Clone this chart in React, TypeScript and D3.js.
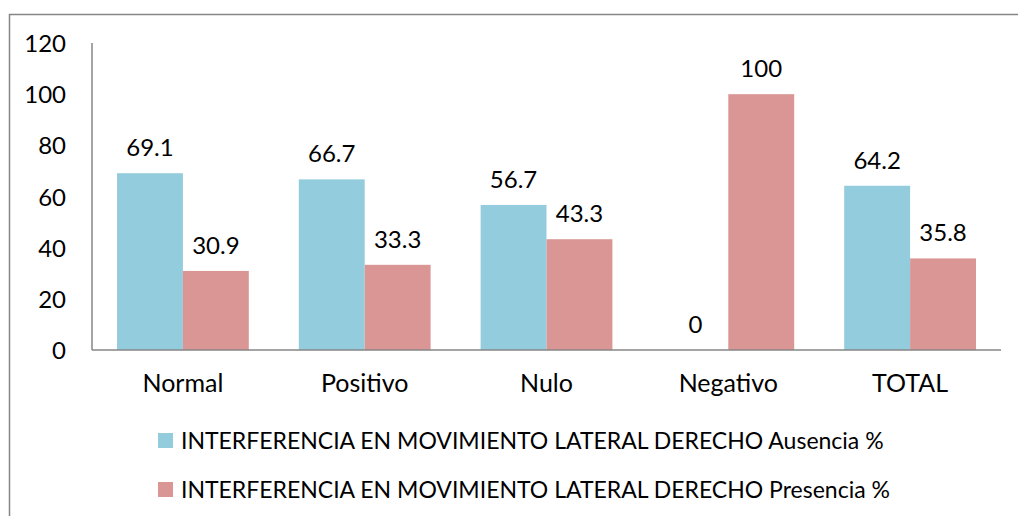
import React from "react";
import * as d3 from "d3";

const categories = ["Normal", "Positivo", "Nulo", "Negativo", "TOTAL"];
const ausencia = [69.1, 66.7, 56.7, 0, 64.2];
const presencia = [30.9, 33.3, 43.3, 100, 35.8];
const seriesNames = [
  "INTERFERENCIA EN MOVIMIENTO LATERAL DERECHO Ausencia %",
  "INTERFERENCIA EN MOVIMIENTO LATERAL DERECHO Presencia %",
];
const yTicks = [0, 20, 40, 60, 80, 100, 120];
const colors = ["#93CDDD", "#D99694"];

export default function App() {
  const W = 1018, H = 516;
  const left = 92, right = 1001, top = 43, bottom = 350;
  const font = "Lato, sans-serif";
  const fs = 25;
  const x0 = d3.scaleBand().domain(categories).range([left, right]).paddingInner(0.275).paddingOuter(0.1375);
  const x1 = d3.scaleBand().domain(["a", "p"]).range([0, x0.bandwidth()]);
  const y = d3.scaleLinear().domain([0, 120]).range([bottom, top]);
  const series = [ausencia, presencia];
  const keys = ["a", "p"];
  return (
    <svg width={W} height={H} style={{ position: "absolute", left: 0, top: 0, background: "#fff" }} fontFamily={font}>
      <rect x={0} y={0} width={W} height={H} fill="#fff" />
      <path d={`M9.5,${H + 5} V14.5 H${W + 5}`} fill="none" stroke="#868686" strokeWidth={1.5} />
      {series.map((vals, si) =>
        vals.map((v, i) => {
          const xx = (x0(categories[i]) as number) + (x1(keys[si]) as number);
          return (
            <g key={`${si}-${i}`}>
              {v > 0 && (
                <rect x={xx} y={y(v)} width={x1.bandwidth()} height={bottom - y(v)} fill={colors[si]} />
              )}
              <text x={xx + x1.bandwidth() / 2} y={y(v) - 17} textAnchor="middle" fontSize={24} fill="#000">
                {String(v)}
              </text>
            </g>
          );
        })
      )}
      <line x1={left} x2={left} y1={top} y2={bottom} stroke="#868686" strokeWidth={1.5} />
      <line x1={left} x2={right} y1={bottom} y2={bottom} stroke="#868686" strokeWidth={1.5} />
      {yTicks.map((t) => (
        <text key={t} x={66} y={y(t) + 9} textAnchor="end" fontSize={24} fill="#000">
          {t}
        </text>
      ))}
      {categories.map((c) => (
        <text key={c} x={(x0(c) as number) + x0.bandwidth() / 2} y={392} textAnchor="middle" fontSize={fs} fill="#000">
          {c}
        </text>
      ))}
      {seriesNames.map((n, i) => (
        <g key={n}>
          <rect x={158} y={433 + i * 49} width={15} height={15} fill={colors[i]} />
          <text x={181} y={449 + i * 49} fontSize={23} fill="#000">
            {n}
          </text>
        </g>
      ))}
    </svg>
  );
}
